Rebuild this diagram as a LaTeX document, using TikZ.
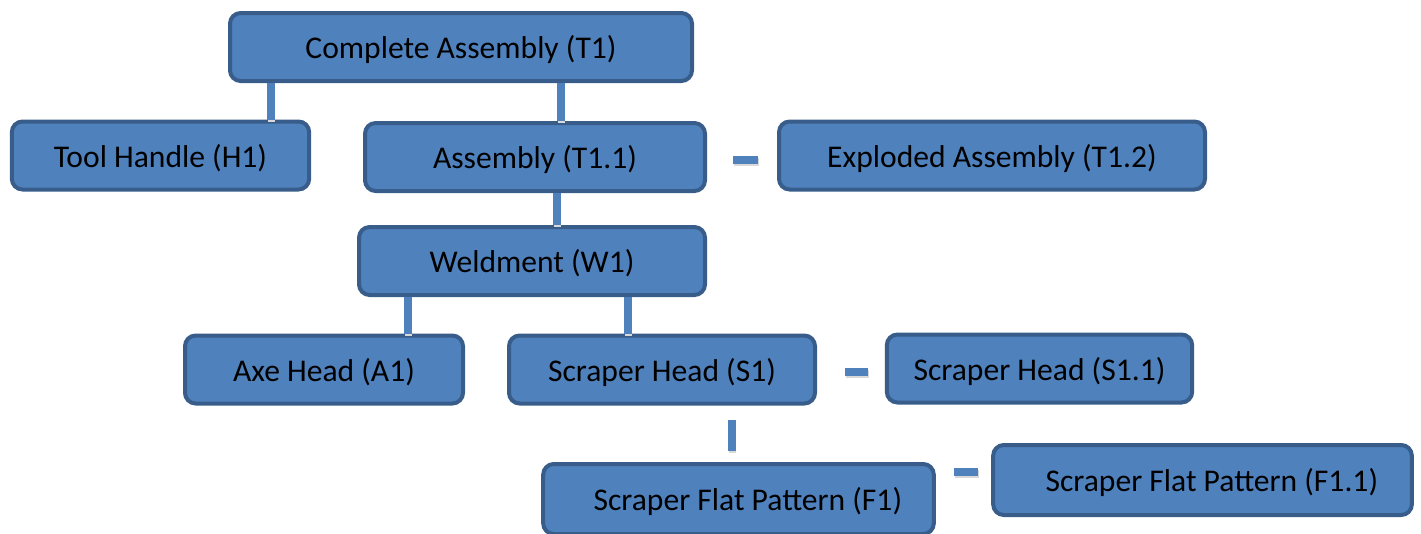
\documentclass[tikz,border=0pt]{standalone}
\usepackage{fontspec}
\setmainfont{Carlito}
\usepackage{tikz}
\usetikzlibrary{positioning}
\definecolor{boxblue}{RGB}{79,129,189}
\definecolor{edgeblue}{RGB}{56,93,138}
\tikzstyle{pbox}=[rectangle,rounded corners=8pt,draw=edgeblue,line width=3pt,fill=boxblue,
                  minimum height=51pt,inner sep=0pt,text height=22pt,text depth=4.5pt,
                  align=center,font=\fontsize{23.7}{28}\selectfont]
\tikzstyle{link}=[draw=boxblue,line width=5.5pt,
                  preaction={draw=black!15,line width=5.5pt,transform canvas={xshift=0.5pt,yshift=-1.5pt}}]

\begin{document}
\begin{tikzpicture}[x=0.75pt,y=-0.75pt]
      \useasboundingbox (0,0) rectangle (1421,533);
      \node[pbox,minimum width=346.5pt] (t1) at (461,47) {Complete Assembly (T1)};
      \node[pbox,minimum width=223pt] (h1) at (160.5,155.5) {Tool Handle (H1)};
      \node[pbox,minimum width=255pt] (t11) at (535,157) {Assembly (T1.1)};
      \node[pbox,minimum width=319.5pt] (t12) at (992,155.5) {Exploded Assembly (T1.2)};
      \node[pbox,minimum width=259.5pt] (w1) at (532,261) {Weldment (W1)};
      \node[pbox,minimum width=208.5pt] (a1) at (324,369.5) {Axe Head (A1)};
      \node[pbox,minimum width=229.5pt] (s1) at (662,369.5) {Scraper Head (S1)};
      \node[pbox,minimum width=229pt] (s11) at (1039.5,368.5) {Scraper Head (S1.1)};
      \node[pbox,minimum width=293pt,minimum height=52.5pt] (f1) at (738.5,499) {\hspace*{14pt}Scraper Flat Pattern (F1)};
      \node[pbox,minimum width=314pt,minimum height=52.5pt] (f11) at (1202.5,480) {\hspace*{14pt}Scraper Flat Pattern (F1.1)};
      \draw[link] ([xshift=82.9pt]h1.north) -- ([xshift=82.9pt]h1.north |- t1.south);
      \draw[link] ([xshift=19.5pt]t11.north) -- ([xshift=19.5pt]t11.north |- t1.south);
      \draw[link] ([xshift=16.5pt]t11.south) -- ([xshift=16.5pt]t11.south |- w1.north);
      \draw[link] ([xshift=63pt]a1.north) -- ([xshift=63pt]a1.north |- w1.south);
      \draw[link] ([xshift=-25.5pt]s1.north) -- ([xshift=-25.5pt]s1.north |- w1.south);
      \draw[link,shorten <=10.5pt,shorten >=8pt] ([xshift=-4.9pt]s1.south -| f1.north) -- ([xshift=-4.9pt]f1.north);
      \draw[link,shorten <=19.5pt,shorten >=14pt] ([yshift=-2.2pt]t11.east) -- ([yshift=-2.2pt]t11.east -| t12.west);
      \draw[link,shorten <=21pt,shorten >=12.75pt] ([yshift=-1.9pt]s1.east) -- ([yshift=-1.9pt]s1.east -| s11.west);
      \draw[link,shorten <=13.5pt,shorten >=10pt] ([yshift=6pt]f1.east |- f11.west) -- ([yshift=6pt]f11.west);
    \end{tikzpicture}
\end{document}
